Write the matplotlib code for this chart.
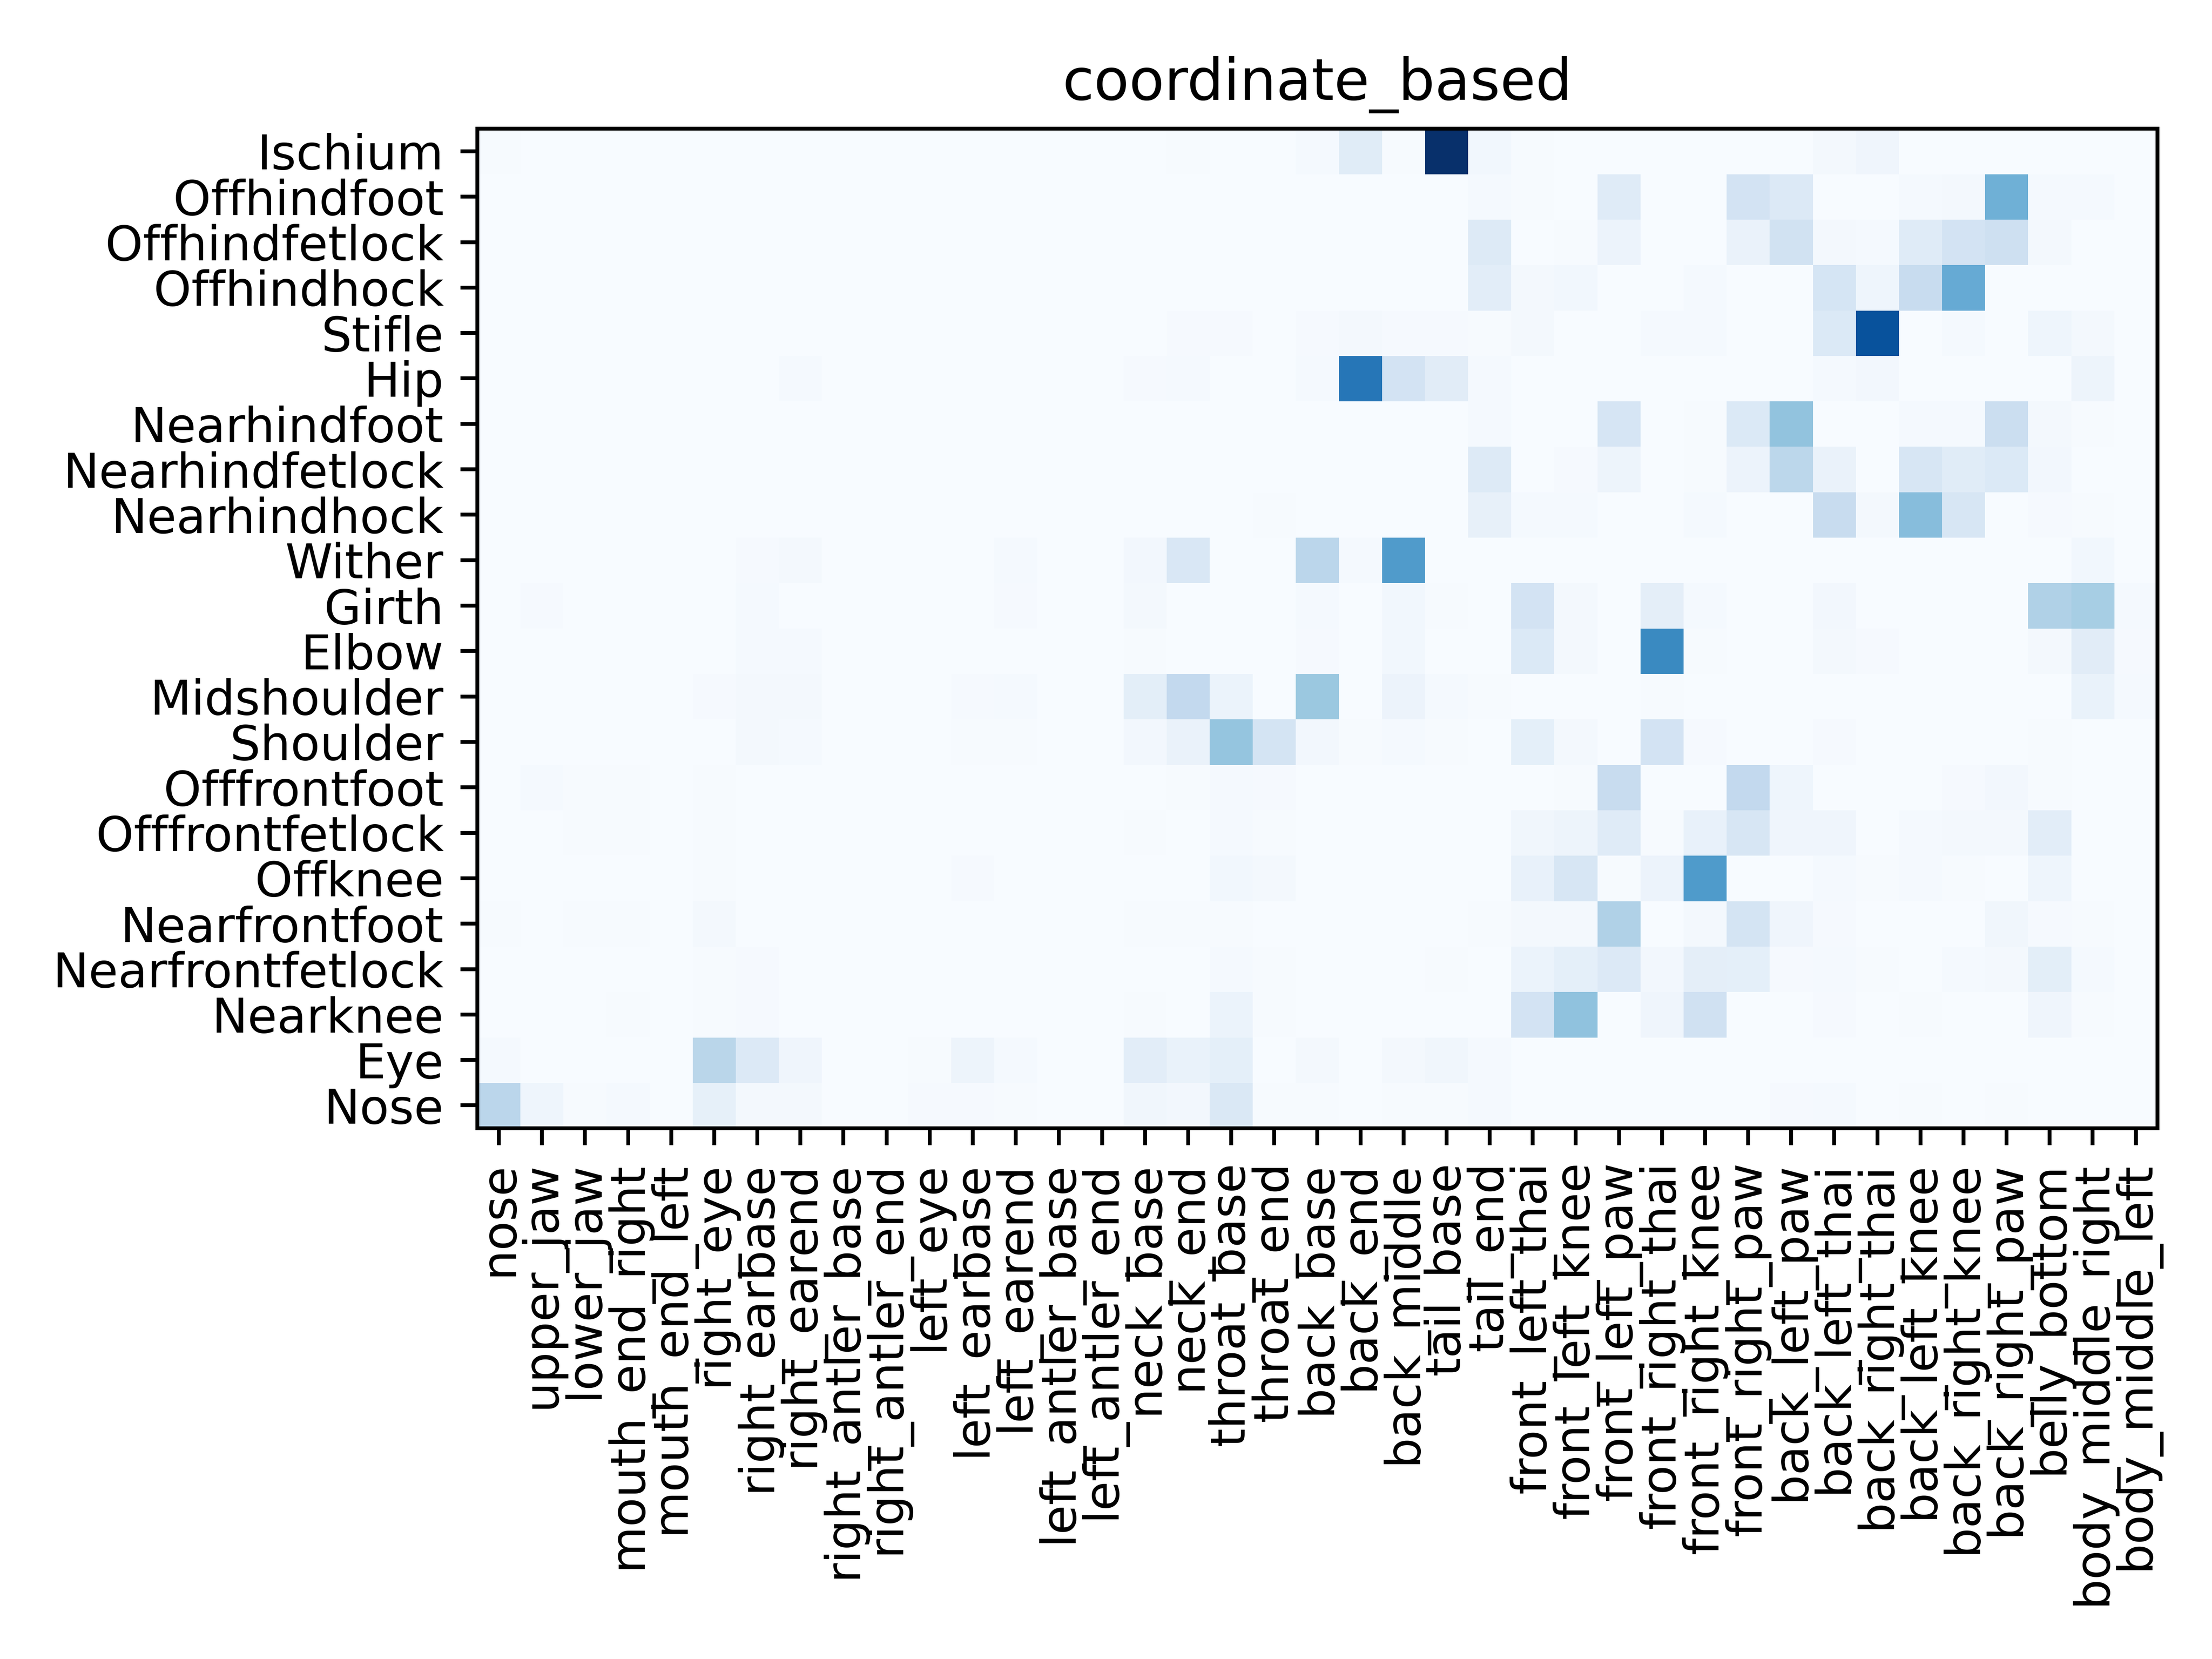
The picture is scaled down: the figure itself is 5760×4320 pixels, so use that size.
import matplotlib
matplotlib.use('Agg')
import matplotlib.pyplot as plt
import numpy as np

keypoints = ['nose', 'upper_jaw', 'lower_jaw', 'mouth_end_right', 'mouth_end_left', 'right_eye',
             'right_earbase', 'right_earend', 'right_antler_base', 'right_antler_end', 'left_eye',
             'left_earbase', 'left_earend', 'left_antler_base', 'left_antler_end', 'neck_base',
             'neck_end', 'throat_base', 'throat_end', 'back_base', 'back_end', 'back_middle',
             'tail_base', 'tail_end', 'front_left_thai', 'front_left_knee', 'front_left_paw',
             'front_right_thai', 'front_right_knee', 'front_right_paw', 'back_left_paw',
             'back_left_thai', 'back_right_thai', 'back_left_knee', 'back_right_knee',
             'back_right_paw', 'belly_bottom', 'body_middle_right', 'body_middle_left']

parts = ['Nose', 'Eye', 'Nearknee', 'Nearfrontfetlock', 'Nearfrontfoot', 'Offknee', 'Offfrontfetlock',
         'Offfrontfoot', 'Shoulder', 'Midshoulder', 'Elbow', 'Girth', 'Wither', 'Nearhindhock',
         'Nearhindfetlock', 'Nearhindfoot', 'Hip', 'Stifle', 'Offhindhock', 'Offhindfetlock',
         'Offhindfoot', 'Ischium']

# one row per body part, 39 values each
nose = [.284, .045, .005, .015, 0, .085, .018, .018, 0, 0,
        .01, .01, .006, 0, 0, .035, .025, .146, .006, .005,
        0, .004, .006, .012, 0, 0, 0, 0, 0, 0,
        .01, .012, 0, .006, 0, .005, 0, 0, 0]
eye = [.012, 0, 0, 0, 0, .288, .135, .04, 0, 0,
       .006, .05, .015, 0, 0, .105, .07, .09, 0, .02,
       0, .016, .035, .015, 0, 0, 0, 0, 0, 0,
       0, .002, .003, 0, 0, 0, 0, 0, 0]
nearknee = [0, 0, 0, .006, 0, .006, .008, 0, 0, 0,
            0, 0, 0, 0, 0, .004, 0, .06, .004, 0,
            0, 0, 0, 0, .183, .41, 0, .04, .198, 0,
            .003, .008, .002, .004, 0, 0, .04, .004, 0]
nearfrontfetlock = [0, 0, 0, .003, 0, .006, .008, 0, 0, 0,
                    0, 0, 0, 0, 0, 0, 0, .012, .004, 0,
                    0, 0, .006, 0, .06, .09, .135, .025, .095, .09,
                    .008, .012, .006, 0, .015, .022, .1, .015, 0]
nearfrontfoot = [.006, 0, .006, .006, 0, .02, .003, 0, 0, 0,
                 0, 0, 0, 0, 0, .004, .004, .004, 0, 0,
                 0, 0, 0, .004, .02, .018, .32, 0, .018, .177,
                 .04, .008, .002, 0, 0, .035, .008, .006, 0]
offknee = [0, 0, 0, 0, 0, .005, 0, 0, 0, 0,
           0, .01, 0, 0, 0, 0, 0, .03, .02, 0,
           0, 0, 0, 0, .075, .16, .004, .055, .585, 0,
           0, .012, .006, .015, .004, 0, .045, 0, 0]
offfrontfetlock = [.003, 0, .005, .005, 0, .006, 0, 0, 0, 0,
                   0, 0, 0, 0, 0, .004, 0, .012, .006, 0,
                   0, 0, 0, 0, .035, .05, .12, .006, .075, .16,
                   .04, .04, 0, .012, .02, .02, .105, 0, 0]
offfrontfoot = [0, .012, .005, .005, 0, .005, 0, 0, 0, 0,
                0, 0, 0, 0, 0, 0, .005, .012, .008, 0,
                0, 0, 0, 0, .003, .006, .235, .003, 0, .26,
                .045, 0, 0, 0, .008, .025, .006, 0, 0]
shoulder = [0, 0, 0, 0, 0, 0, .02, .012, 0, 0,
            0, .004, .004, 0, 0, .025, .065, .395, .177, .025,
            .006, .012, .004, 0, .09, .016, 0, .18, .008, 0,
            0, .008, 0, 0, 0, 0, .006, 0, 0]
midshoulder = [0, 0, 0, 0, 0, .008, .022, .02, 0, 0,
               0, .01, .012, 0, 0, .1, .26, .06, 0, .382,
               .002, .055, .015, .004, .002, 0, 0, .006, 0, 0,
               0, 0, 0, 0, 0, 0, 0, .07, .012]
elbow = [0, 0, 0, 0, 0, 0, .012, .012, 0, 0,
         0, 0, 0, 0, 0, .006, 0, 0, 0, .01,
         0, .03, 0, 0, .14, .018, 0, .656, .006, 0,
         0, .02, .008, 0, 0, 0, .018, .11, .008]
girth = [0, .01, 0, 0, 0, 0, .012, 0, 0, 0,
         0, 0, .008, 0, 0, .02, 0, 0, 0, .012,
         0, .03, .004, 0, .183, .02, 0, .095, .012, 0,
         0, .025, 0, 0, 0, 0, .32, .347, .012]
wither = [0, 0, 0, 0, 0, 0, .01, .02, 0, 0,
          0, 0, .012, 0, 0, .025, .151, 0, 0, .284,
          .012, .58, .002, 0, 0, 0, 0, 0, 0, 0,
          0, 0, 0, 0, 0, 0, 0, .03, 0]
nearhindhock = [0, 0, 0, 0, 0, 0, 0, 0, 0, 0,
                0, 0, 0, 0, 0, 0, 0, 0, .005, 0,
                0, 0, .002, .08, .012, .015, 0, 0, .012, 0,
                0, .235, .022, .43, .16, 0, .01, .004, 0]
nearhindfetlock = [0, 0, 0, 0, 0, 0, 0, 0, 0, 0,
                   0, 0, 0, 0, 0, 0, 0, 0, 0, 0,
                   0, 0, 0, .13, 0, .01, .05, 0, .006, .055,
                   .278, .065, 0, .16, .115, .14, .025, 0, 0]
nearhindfoot = [0, 0, 0, 0, 0, 0, 0, 0, 0, 0,
                0, 0, 0, 0, 0, 0, 0, 0, 0, 0,
                0, 0, 0, .012, 0, 0, .167, 0, .005, .14,
                .404, 0, 0, .015, .012, .22, .016, .006, 0]
hip = [0, 0, 0, 0, 0, 0, 0, .012, 0, 0,
       0, 0, 0, 0, 0, .008, .015, 0, 0, .012,
       .73, .183, .11, .012, 0, 0, 0, 0, 0, 0,
       0, .012, .025, 0, 0, 0, 0, .05, 0]
stifle = [0, 0, 0, 0, 0, 0, 0, 0, 0, 0,
          0, 0, 0, 0, 0, 0, .01, .01, 0, .01,
          .022, .008, .008, .006, .022, 0, .002, .012, .012, .003,
          0, .14, .87, 0, .012, 0, .045, .016, 0]
offhindhock = [0, 0, 0, 0, 0, 0, 0, 0, 0, 0,
               0, 0, 0, 0, 0, 0, 0, 0, 0, 0,
               0, 0, .002, .105, .022, .028, .002, 0, .012, 0,
               0, .17, .045, .235, .515, 0, 0, .002, 0]
offhindfetlock = [0, 0, 0, 0, 0, 0, 0, 0, 0, 0,
                  0, 0, 0, 0, 0, 0, 0, 0, 0, 0,
                  0, 0, 0, .13, 0, .005, .055, 0, 0, .065,
                  .19, .018, .012, .12, .183, .21, .018, 0, 0]
offhindfoot = [0, 0, 0, 0, 0, 0, 0, 0, 0, 0,
               0, 0, 0, 0, 0, 0, 0, 0, 0, 0,
               0, 0, 0, .012, .004, 0, .12, 0, 0, .18,
               .135, 0, 0, .012, .02, .49, .012, .012, 0]
ischium = [.005, 0, 0, 0, 0, 0, 0, 0, 0, 0,
           0, 0, 0, 0, 0, 0, .006, 0, 0, .012,
           .115, .004, 1, .03, .004, 0, 0, 0, 0, 0,
           0, .018, .04, 0, 0, 0, 0, .003, 0]

matrix = np.array([nose, eye, nearknee, nearfrontfetlock, nearfrontfoot, offknee, offfrontfetlock,
                   offfrontfoot, shoulder, midshoulder, elbow, girth, wither, nearhindhock,
                   nearhindfetlock, nearhindfoot, hip, stifle, offhindhock, offhindfetlock,
                   offhindfoot, ischium])

fig, ax = plt.subplots(figsize=(6.4, 4.8), dpi=900)
ax.imshow(matrix, cmap='Blues', vmin=0, vmax=1, aspect='auto', origin='lower', interpolation='nearest')
ax.set_xticks(np.arange(len(keypoints)))
ax.set_xticklabels(keypoints, rotation=90)
ax.set_yticks(np.arange(len(parts)))
ax.set_yticklabels(parts)
ax.set_title('coordinate_based')

fig.subplots_adjust(left=0.2158, right=0.9753, top=0.9225, bottom=0.3200)
plt.savefig('out.png')
